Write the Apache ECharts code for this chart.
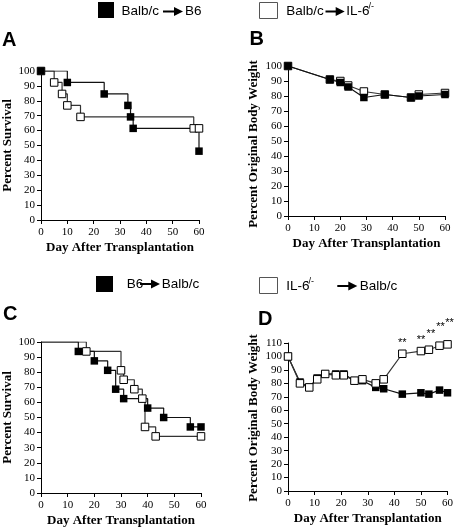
<!DOCTYPE html>
<html>
<head>
<meta charset="utf-8">
<script src="https://cdn.jsdelivr.net/npm/echarts@6/dist/echarts.min.js"></script>
<style>html,body{margin:0;padding:0;background:#fff}#c{width:456px;height:528px}</style>
</head>
<body>
<div id="c"></div>
<script>
// ---------- Data ----------
// Panel A: survival (Kaplan-Meier)
const aDaysFilled = [0, 10, 24, 33, 34, 35, 60];
const aSurvFilled = [100, 92.3, 84.6, 76.9, 69.2, 61.5, 46.2];
const aDaysOpen = [0, 5, 8, 10, 15, 58, 60];
const aSurvOpen = [100, 92.3, 84.6, 76.9, 69.2, 61.5, 61.5];
// Panel B: body weight
const bDays = [0, 16, 20, 23, 29, 37, 47, 50, 60];
const bFilled = [100, 91, 89, 86, 79, 81, 79, 80, 81];
const bOpen = [100, 91, 90, 87, 83, 81, 79, 81, 82];
// Panel C: survival
const cDaysFilled = [0, 14, 20, 25, 28, 31, 40, 46, 56, 60];
const cSurvFilled = [100, 93.75, 87.5, 81.25, 68.75, 62.5, 56.25, 50, 43.75, 43.75];
const cDaysOpen = [0, 17, 30, 31, 35, 38, 39, 43, 60];
const cSurvOpen = [100, 93.75, 81.25, 75, 68.75, 62.5, 43.75, 37.5, 37.5];
// Panel D: body weight
const dDays = [0, 4.5, 8, 11, 14, 18, 21, 25, 28, 33, 36, 43, 50, 53, 57, 60];
const dFilled = [100, 81, 77, 84, 87, 87, 87, 82, 82, 77, 76, 72, 73, 72, 75, 73];
const dOpen = [100, 80, 77, 83, 87, 86, 86, 82, 83, 80, 83, 102, 104, 105, 108, 109];
const dSig = ['', '', '', '', '', '', '', '', '', '', '', '**', '**', '**', '**', '**'];
// Y tick labels of panel D
const dTicks = [0, 10, 20, 30, 40, 50, 60, 70, 80, 90, 100, 110];

// Text
const xName = 'Day After Transplantation';
const survName = 'Percent Survival';
const weightName = 'Percent Original Body Weight';
const panelLetters = ['A', 'B', 'C', 'D'];

// ---------- Helpers ----------
const zip = (xs, ys) => xs.map((x, i) => [x, ys[i]]);
const serif = 'Liberation Serif';
const sans = 'Liberation Sans';

const grids = [
  { left: 41, top: 71, width: 158, height: 149 },
  { left: 288, top: 66, width: 157, height: 150 },
  { left: 41, top: 342, width: 160, height: 151 },
  { left: 288, top: 343, width: 160, height: 148 }
];

function xAxis(i) {
  return {
    gridIndex: i, type: 'value', min: 0, max: 60, interval: 10,
    name: xName, nameLocation: 'middle', nameGap: 21,
    nameTextStyle: { fontFamily: serif, fontWeight: 'bold', fontSize: 13, color: '#000' },
    axisLine: { onZero: false, lineStyle: { color: '#000', width: 1 } },
    axisTick: { length: 4, lineStyle: { color: '#000' } },
    axisLabel: { fontFamily: serif, fontSize: 11, color: '#000', margin: 7 },
    splitLine: { show: false }
  };
}
function yAxis(i, max, name) {
  const ax = {
    gridIndex: i, type: 'value', min: 0, max: max, interval: 10,
    axisLine: { show: true, onZero: false, lineStyle: { color: '#000', width: 1 } },
    axisTick: { show: true, length: 4, lineStyle: { color: '#000' } },
    axisLabel: { fontFamily: serif, fontSize: 11, color: '#000', margin: 6 },
    splitLine: { show: false }
  };
  if (name) {
    Object.assign(ax, {
      name: name, nameLocation: 'middle', nameGap: 27, nameRotate: 90,
      nameTextStyle: { fontFamily: serif, fontWeight: 'bold', fontSize: 13, color: '#000' }
    });
  }
  return ax;
}
function series(i, data, filled, step) {
  return {
    type: 'line', xAxisIndex: i, yAxisIndex: i, data: data,
    step: step ? 'end' : false,
    symbol: 'rect', symbolSize: 7.5,
    lineStyle: { color: filled ? '#111' : '#333', width: 1.2 },
    itemStyle: { color: filled ? '#000' : '#fff', borderColor: '#000', borderWidth: filled ? 0 : 1 }
  };
}

const cFilledData = zip(cDaysFilled, cSurvFilled).map((p, i) => i === 0 ? { value: p, symbol: 'none' } : p);
const cOpenData = zip(cDaysOpen, cSurvOpen).map((p, i) => i === 0 ? { value: p, symbol: 'none' } : p);
const sigOffsets = { 11: [0, 0], 12: [0, 0], 13: [2, -5], 14: [1, -8], 15: [2, -11] };
const dOpenData = zip(dDays, dOpen).map((p, i) => dSig[i] ? {
  value: p,
  label: { show: true, formatter: dSig[i], position: 'top', distance: 1, offset: sigOffsets[i],
    fontFamily: sans, fontSize: 11, color: '#000' }
} : p);

// ---------- Legend / letter graphics ----------
function arrow(x1, x2, y) {
  return [
    { type: 'line', shape: { x1: x1, y1: y, x2: x2 - 7, y2: y }, style: { stroke: '#000', lineWidth: 2 } },
    { type: 'polygon', shape: { points: [[x2 - 9, y - 4.5], [x2, y], [x2 - 9, y + 4.5]] }, style: { fill: '#000' } }
  ];
}
function txt(x, y, t, size, weight) {
  return { type: 'text', x: x, y: y, style: { text: t, fill: '#000', font: (weight || 'normal') + ' ' + size + 'px "' + sans + '"', textVerticalAlign: 'middle' } };
}
function vName(x, y, t) {
  return { type: 'text', x: x, y: y, rotation: Math.PI / 2,
    style: { text: t, fill: '#000', font: 'bold 13px "' + serif + '"', textAlign: 'center', textVerticalAlign: 'middle' } };
}
const graphics = [].concat(
  [{ type: 'rect', shape: { x: 98, y: 2, width: 16, height: 16 }, style: { fill: '#000' } }],
  [txt(121.5, 11.5, 'Balb/c', 13.5)], arrow(163, 183, 11.5), [txt(185, 11.5, 'B6', 13.5)],
  [{ type: 'rect', shape: { x: 259.5, y: 2.5, width: 18, height: 16 }, style: { fill: '#fff', stroke: '#555', lineWidth: 1 } }],
  [txt(286.3, 11.5, 'Balb/c', 13.5)], arrow(325.5, 344.7, 11.5), [txt(346.3, 11.5, 'IL-6', 13.5), txt(365.5, 7, '-/-', 9)],
  [{ type: 'rect', shape: { x: 96, y: 276, width: 17, height: 16 }, style: { fill: '#000' } }],
  [txt(126.7, 284, 'B6', 13.5)], arrow(140, 160, 284), [txt(161.7, 284, 'Balb/c', 13.5)],
  [{ type: 'rect', shape: { x: 259.5, y: 277.5, width: 18, height: 16 }, style: { fill: '#fff', stroke: '#555', lineWidth: 1 } }],
  [txt(286.3, 286, 'IL-6', 13.5), txt(305.5, 281.5, '-/-', 9)], arrow(337.3, 357.3, 286), [txt(359.7, 286, 'Balb/c', 13.5)],
  [txt(2, 40.5, panelLetters[0], 20, 'bold'), txt(249.5, 39, panelLetters[1], 20, 'bold'),
   txt(3, 314, panelLetters[2], 20, 'bold'), txt(258, 319, panelLetters[3], 20, 'bold')],
  [vName(253.5, 144, weightName), vName(254, 418, weightName)]
);

const option = {
  animation: false,
  backgroundColor: '#fff',
  grid: grids,
  xAxis: [xAxis(0), xAxis(1), xAxis(2), xAxis(3)],
  yAxis: [yAxis(0, 100, survName), yAxis(1, 100), yAxis(2, 100, survName), yAxis(3, 110)],
  series: [
    series(0, zip(aDaysOpen, aSurvOpen), false, true),
    series(0, zip(aDaysFilled, aSurvFilled), true, true),
    series(1, zip(bDays, bOpen), false, false),
    series(1, zip(bDays, bFilled), true, false),
    series(2, cOpenData, false, true),
    series(2, cFilledData, true, true),
    series(3, zip(dDays, dFilled), true, false),
    series(3, dOpenData, false, false)
  ],
  graphic: graphics
};

const chart = echarts.init(document.getElementById('c'), null, { renderer: 'canvas' });
chart.setOption(option);

// Safety net: if panel D's y-axis tick labels were not drawn by the axis,
// place them at the positions given by that axis's own scale.
(function ensureDLabels() {
  let visible = false;
  try {
    const list = chart.getZr().storage.getDisplayList(true, false);
    visible = list.some(el => el.style && el.style.text === '110' && !el.invisible && el.style.opacity !== 0);
  } catch (e) { visible = false; }
  if (visible) return;
  const x0 = chart.convertToPixel({ xAxisIndex: 3 }, 0);
  const extra = dTicks.map(v => ({
    type: 'text', x: x0 - 6, y: chart.convertToPixel({ yAxisIndex: 3 }, v),
    style: { text: String(v), fill: '#000', font: '11px "' + serif + '"', textAlign: 'right', textVerticalAlign: 'middle' }
  }));
  chart.setOption({ graphic: graphics.concat(extra) });
})();
</script>
</body>
</html>
